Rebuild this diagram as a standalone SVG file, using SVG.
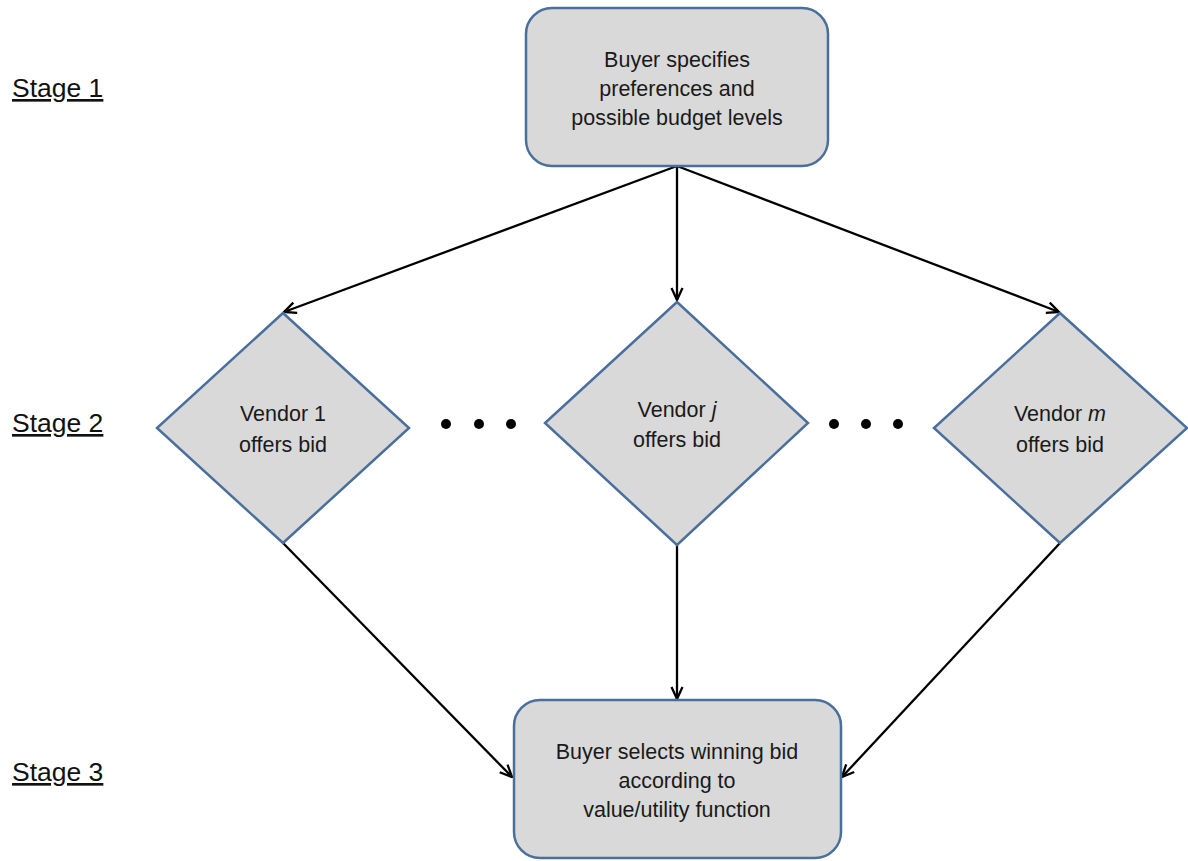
<svg xmlns="http://www.w3.org/2000/svg" width="1188" height="861" viewBox="0 0 1188 861">
<style>
.node{fill:#d9d9d9;stroke:#4a6f9c;stroke-width:2.5}
.t{font-family:"Liberation Sans",Arial,sans-serif;font-size:21.5px;fill:#1a1a1a;text-anchor:middle}
.stage{font-family:"Liberation Sans",Arial,sans-serif;font-size:26.5px;fill:#111;text-decoration:underline}
.c{stroke:#000;stroke-width:2.3;fill:none;marker-end:url(#ah)}
</style>
<defs>
<marker id="ah" viewBox="0 0 14 14" refX="13" refY="7" markerWidth="14" markerHeight="14" markerUnits="userSpaceOnUse" orient="auto">
<path d="M1,1.5 L13,7 L1,12.5" fill="none" stroke="#000" stroke-width="2.3"/>
</marker>
</defs>
<rect width="1188" height="861" fill="#fff"/>
<g id="stages">
<text class="stage" x="12" y="97">Stage 1</text>
<text class="stage" x="12" y="432">Stage 2</text>
<text class="stage" x="12" y="781">Stage 3</text>
</g>
<g id="connectors">
<line class="c" x1="677" y1="166" x2="284" y2="312"/>
<line class="c" x1="677" y1="166" x2="677" y2="300"/>
<line class="c" x1="677" y1="166" x2="1059" y2="312"/>
<line class="c" x1="283" y1="543" x2="512" y2="777"/>
<line class="c" x1="677" y1="545" x2="677" y2="699"/>
<line class="c" x1="1060" y1="543" x2="842" y2="777"/>
</g>
<g id="buyer-specifies">
<rect class="node" x="526" y="8" width="302" height="158" rx="26"/>
<text class="t" x="677" y="67">Buyer specifies</text>
<text class="t" x="677" y="96">preferences and</text>
<text class="t" x="677" y="125">possible budget levels</text>
</g>
<g id="vendor-1">
<polygon class="node" points="283,313 409,428 283,543 157,428"/>
<text class="t" x="283" y="421">Vendor 1</text>
<text class="t" x="283" y="452">offers bid</text>
</g>
<g id="dots-left">
<circle cx="446" cy="424" r="5" fill="#000"/>
<circle cx="479" cy="424" r="5" fill="#000"/>
<circle cx="511" cy="424" r="5" fill="#000"/>
</g>
<g id="vendor-j">
<polygon class="node" points="677,302 808,423 677,545 545,423"/>
<text class="t" x="677" y="417">Vendor <tspan font-style="italic">j</tspan></text>
<text class="t" x="677" y="447">offers bid</text>
</g>
<g id="dots-right">
<circle cx="834" cy="424" r="5" fill="#000"/>
<circle cx="866" cy="424" r="5" fill="#000"/>
<circle cx="898" cy="424" r="5" fill="#000"/>
</g>
<g id="vendor-m">
<polygon class="node" points="1060,313 1187,428 1060,543 934,428"/>
<text class="t" x="1060" y="421">Vendor <tspan font-style="italic">m</tspan></text>
<text class="t" x="1060" y="452">offers bid</text>
</g>
<g id="buyer-selects">
<rect class="node" x="514" y="700" width="327" height="158" rx="26"/>
<text class="t" x="677" y="759">Buyer selects winning bid</text>
<text class="t" x="677" y="788">according to</text>
<text class="t" x="677" y="817">value/utility function</text>
</g>
</svg>
